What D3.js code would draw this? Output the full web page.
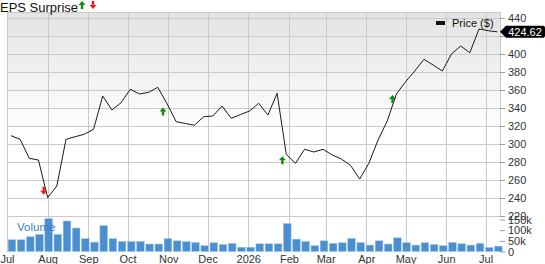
<!DOCTYPE html>
<html>
<head>
<meta charset="utf-8">
<script src="https://cdn.jsdelivr.net/npm/d3@7"></script>
<style>
  body { margin: 0; background: #fff; }
  svg { font-family: "Liberation Sans", Arial, sans-serif; display: block; }
</style>
</head>
<body>
<div id="vis"></div>
<script>
// weekly closes (Fridays)
const dates = [
  "2025-07-04", "2025-07-11", "2025-07-18", "2025-07-25", "2025-08-01", "2025-08-08", "2025-08-15", "2025-08-22", "2025-08-29",
  "2025-09-05", "2025-09-12", "2025-09-19", "2025-09-26", "2025-10-03", "2025-10-10", "2025-10-17", "2025-10-24", "2025-10-31",
  "2025-11-07", "2025-11-14", "2025-11-21", "2025-11-28", "2025-12-05", "2025-12-12", "2025-12-19", "2025-12-26",
  "2026-01-02", "2026-01-09", "2026-01-16", "2026-01-23", "2026-01-30", "2026-02-06", "2026-02-13", "2026-02-20", "2026-02-27",
  "2026-03-06", "2026-03-13", "2026-03-20", "2026-03-27", "2026-04-03", "2026-04-10", "2026-04-17", "2026-04-24",
  "2026-05-01", "2026-05-08", "2026-05-15", "2026-05-22", "2026-05-29", "2026-06-05", "2026-06-12", "2026-06-19", "2026-06-26",
  "2026-07-03", "2026-07-10"
];
const prices = [
  309.2, 305.2, 284.1, 282.2, 240.3, 253.3, 305.2, 308.1, 310.8,
  316.3, 353.3, 337.8, 345.9, 360.8, 355.6, 357.4, 363.0, 345.0,
  324.8, 322.8, 320.8, 330.3, 331.1, 342.2, 328.6, 332.6,
  336.7, 345.2, 332.2, 356.3, 288.6, 278.6, 294.1, 291.1, 294.1,
  287.8, 283.3, 276.3, 261.1, 278.6, 304.4, 325.6, 355.6,
  369.2, 381.1, 394.1, 387.8, 381.1, 400.0, 408.9, 401.4, 427.8,
  425.9, 424.62
];
const volumes = [
  55, 55, 69, 80, 154, 80, 143, 110, 60,
  44, 121, 60, 47, 47, 47, 35, 35, 60,
  50, 46, 42, 27, 41, 33, 38, 20,
  20, 36, 36, 36, 131, 58, 47, 27, 50,
  38, 41, 61, 42, 30, 50, 35, 64,
  41, 30, 41, 33, 27, 42, 36, 30, 38,
  19, 25
]; // thousands

// earnings surprises
const epsDates = ["2025-07-29", "2025-10-28", "2026-01-27", "2026-04-21"];
const epsLevels = [248, 336, 282, 350];
const epsTypes = ["down", "up", "up", "up"];

// axis ticks
const monthTicks = ["2025-07-01", "2025-08-01", "2025-09-01", "2025-10-01", "2025-11-01", "2025-12-01", "2026-01-01",
  "2026-02-01", "2026-03-01", "2026-04-01", "2026-05-01", "2026-06-01", "2026-07-01"];
const monthLabels = ["Jul", "Aug", "Sep", "Oct", "Nov", "Dec", "2026", "Feb", "Mar", "Apr", "May", "Jun", "Jul"];
const priceTicks = [220, 240, 260, 280, 300, 320, 340, 360, 380, 400, 420, 440];
const volumeTicks = [0, 50, 100, 150];

const width = 545;
const height = 264;
const plotLeft = 7, plotRight = 500, plotTop = 12, priceBottom = 216, plotBottom = 252;

const parse = d3.timeParse("%Y-%m-%d");
const lastPrice = prices[prices.length - 1];

let svg = d3.select("#vis")
    .append("svg")
    .attr("width", width)
    .attr("height", height);

//scales
const xScale = d3.scaleTime()
    .domain([parse("2025-07-01"), parse("2026-07-12")])
    .range([plotLeft, plotRight]);
const yScale = d3.scaleLinear()
    .domain([220, 440])
    .range([priceBottom, 18]);
const vScale = d3.scaleLinear()
    .domain([0, 150])
    .range([251.5, 219.5]);

//background gradient
const grad = svg.append("defs").append("linearGradient")
    .attr("id", "bg").attr("x1", 0).attr("y1", 0).attr("x2", 0).attr("y2", 1);
grad.append("stop").attr("offset", "0%").attr("stop-color", "#e3e3e3");
grad.append("stop").attr("offset", "50%").attr("stop-color", "#ffffff");
grad.append("stop").attr("offset", "100%").attr("stop-color", "#ffffff");

svg.append("rect")
    .attr("x", plotLeft).attr("y", plotTop)
    .attr("width", plotRight - plotLeft).attr("height", plotBottom - plotTop)
    .attr("fill", "url(#bg)");

//grid
const grid = svg.append("g").attr("stroke", "#cacaca").attr("stroke-width", 1).attr("shape-rendering", "crispEdges");
grid.selectAll(".hgrid")
    .data(priceTicks)
    .enter().append("line")
    .attr("x1", plotLeft).attr("x2", plotRight)
    .attr("y1", d => Math.round(yScale(d)) + 0.5)
    .attr("y2", d => Math.round(yScale(d)) + 0.5);
grid.append("line")
    .attr("x1", plotLeft).attr("x2", plotRight)
    .attr("y1", plotTop + 0.5).attr("y2", plotTop + 0.5);
grid.selectAll(".vgrid")
    .data(monthTicks)
    .enter().append("line")
    .attr("x1", d => Math.round(xScale(parse(d))) + 0.5)
    .attr("x2", d => Math.round(xScale(parse(d))) + 0.5)
    .attr("y1", plotTop).attr("y2", plotBottom);
grid.append("line")
    .attr("x1", plotRight + 0.5).attr("x2", plotRight + 0.5)
    .attr("y1", plotTop).attr("y2", priceBottom);

//volume bars
const barW = 7.6;
svg.selectAll(".bar")
    .data(volumes)
    .enter().append("rect")
    .attr("class", "bar")
    .attr("x", (d, i) => xScale(parse(dates[i])) - barW / 2 + 1)
    .attr("y", d => vScale(d))
    .attr("width", barW)
    .attr("height", d => vScale(0) - vScale(d))
    .attr("fill", "#4a8fcf")
    .attr("stroke", "#9cc2e6")
    .attr("stroke-width", 0.5);

svg.append("text")
    .attr("x", 17).attr("y", 231)
    .attr("font-size", 11.5)
    .attr("fill", "#3b82c4")
    .text("Volume");

//price line
const line = d3.line()
    .x((d, i) => xScale(parse(dates[i])))
    .y(d => yScale(d));
svg.append("path")
    .datum(prices)
    .attr("d", line)
    .attr("fill", "none")
    .attr("stroke", "#1a1a1a")
    .attr("stroke-width", 1);

//eps arrows
const upArrow = "M0,-4 L3.5,0 L1.2,0 L1.2,4 L-1.2,4 L-1.2,0 L-3.5,0 Z";
const downArrow = "M0,4 L3.5,0 L1.2,0 L1.2,-4 L-1.2,-4 L-1.2,0 L-3.5,0 Z";
svg.selectAll(".eps")
    .data(epsDates)
    .enter().append("path")
    .attr("class", "eps")
    .attr("transform", (d, i) => "translate(" + xScale(parse(d)) + "," + yScale(epsLevels[i]) + ")")
    .attr("d", (d, i) => epsTypes[i] === "up" ? upArrow : downArrow)
    .attr("fill", (d, i) => epsTypes[i] === "up" ? "#138a13" : "#ee1c1c");

//title with arrows
svg.append("text")
    .attr("x", 0).attr("y", 12)
    .attr("font-size", 13)
    .attr("fill", "#111")
    .text("EPS Surprise");
svg.append("path").attr("transform", "translate(82,5)").attr("d", upArrow).attr("fill", "#138a13");
svg.append("path").attr("transform", "translate(93,5)").attr("d", downArrow).attr("fill", "#ee1c1c");

//legend
svg.append("rect")
    .attr("x", 436).attr("y", 21).attr("width", 9).attr("height", 4).attr("fill", "#111");
svg.append("text")
    .attr("x", 452).attr("y", 27)
    .attr("font-size", 11)
    .attr("fill", "#111")
    .text("Price ($)");

//right price axis (label hidden where the last price tag sits)
const lastY = yScale(lastPrice);
const yAxis = svg.append("g")
    .attr("transform", "translate(" + plotRight + ",0)")
    .call(d3.axisRight(yScale).tickValues(priceTicks).tickSize(5).tickPadding(3)
        .tickFormat(d => Math.abs(yScale(d) - lastY) < 9 ? "" : d));
yAxis.select(".domain").remove();
yAxis.selectAll("line").attr("stroke", "#999");
yAxis.selectAll("text").attr("font-size", 11).attr("fill", "#333").attr("font-family", "Liberation Sans, Arial, sans-serif");

//right volume axis
const vAxis = svg.append("g")
    .attr("transform", "translate(" + plotRight + ",0)")
    .call(d3.axisRight(vScale).tickValues(volumeTicks).tickSize(5).tickPadding(3)
        .tickFormat(d => d === 0 ? "0" : d + "k"));
vAxis.select(".domain").remove();
vAxis.selectAll("line").attr("stroke", "#999");
vAxis.selectAll("text").attr("font-size", 11).attr("fill", "#333").attr("font-family", "Liberation Sans, Arial, sans-serif");

//last price tag
svg.append("path")
    .attr("d", "M" + plotRight + "," + lastY + " l6,-6 h37 q2,0 2,2 v8 q0,2 -2,2 h-37 z")
    .attr("fill", "#000");
svg.append("text")
    .attr("x", plotRight + 25).attr("y", lastY + 4)
    .attr("text-anchor", "middle")
    .attr("font-size", 11)
    .attr("fill", "#fff")
    .text(lastPrice.toFixed(2));

//bottom axis labels
const xAxis = svg.append("g")
    .attr("transform", "translate(0," + plotBottom + ")")
    .call(d3.axisBottom(xScale).tickValues(monthTicks.map(parse)).tickSize(0).tickPadding(3)
        .tickFormat((d, i) => monthLabels[i]));
xAxis.select(".domain").remove();
xAxis.selectAll("text").attr("font-size", 11).attr("fill", "#333").attr("font-family", "Liberation Sans, Arial, sans-serif");
</script>
</body>
</html>
